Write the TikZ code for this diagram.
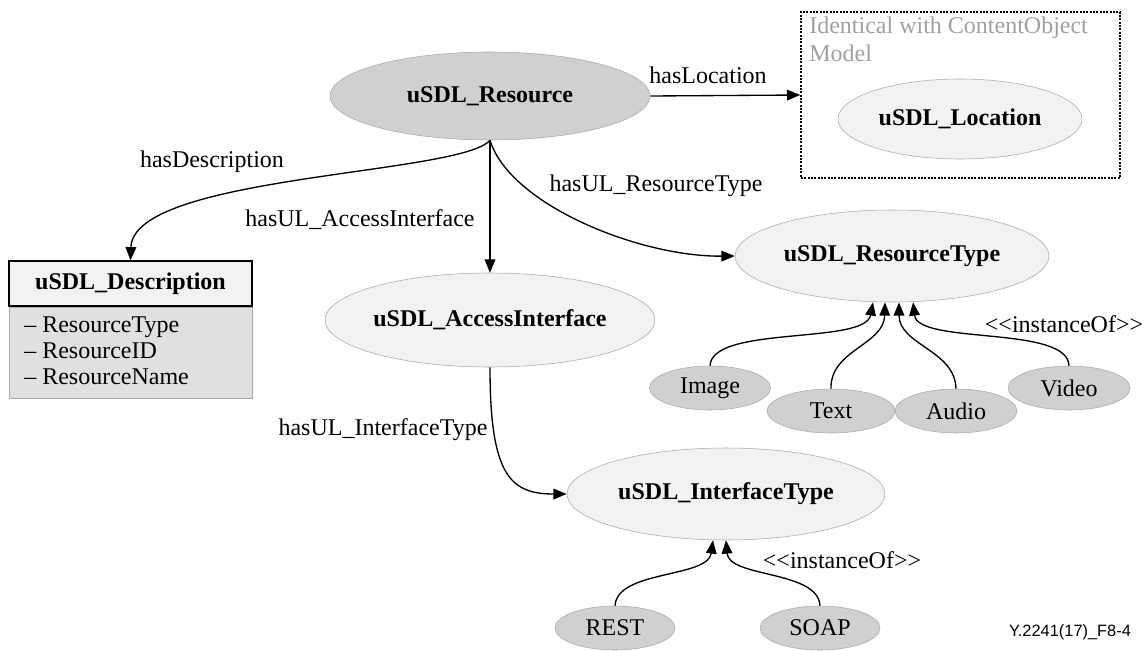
\documentclass[tikz,border=0pt]{standalone}
\usepackage{fontspec}
\setmainfont{Liberation Serif}
\newfontfamily\labelsans{Liberation Sans}
\usetikzlibrary{shapes.geometric,arrows.meta,calc}
\definecolor{darkfill}{HTML}{D0D0D0}
\definecolor{lightfill}{HTML}{F2F2F2}
\definecolor{bodyfill}{HTML}{E0E0E0}
\definecolor{edgegray}{HTML}{A8A8A8}
\definecolor{notegray}{HTML}{A0A0A0}
\begin{document}
\begin{tikzpicture}[x=0.75pt,y=-0.75pt,
  every node/.style={font=\fontsize{18}{21}\selectfont},
  bigell/.style={ellipse,draw=edgegray,fill=lightfill,inner sep=0pt,font=\fontsize{18}{21}\selectfont\bfseries},
  smallell/.style={ellipse,draw=edgegray,fill=darkfill,inner sep=0pt,minimum height=33pt},
  conn/.style={line width=1pt,-{Triangle[length=10pt,width=8pt]}},
  lbl/.style={inner sep=0pt}
]
\useasboundingbox (0,0) rectangle (1146,650);

% nodes
\node[bigell,fill=darkfill,minimum width=240pt,minimum height=66pt] (res) at (490,96) {uSDL\_Resource};
\node[draw,dash pattern=on 1.4pt off 1.1pt,line width=1pt,minimum width=239.25pt,minimum height=124.5pt,inner sep=0pt] (box) at (960.5,95) {};
\node[lbl,anchor=north west,text=notegray,align=left] (note) at (809,17) {Identical with ContentObject\\Model};
\node[bigell,minimum width=183pt,minimum height=60pt] (loc) at (960,119) {uSDL\_Location};

\node[draw=black,fill=lightfill,line width=0.9pt,minimum width=182.25pt,minimum height=33.75pt,inner sep=0pt,font=\fontsize{18}{21}\selectfont\bfseries] (desc) at (130.5,283.5) {uSDL\_Description};
\node[draw=edgegray,fill=bodyfill,minimum width=182.25pt,minimum height=68.25pt,inner sep=0pt,anchor=north] (descbody) at (desc.south) {};
\node[lbl,anchor=north west,align=left,font=\fontsize{18}{19.2}\selectfont] (attrs) at (24,317) {-- ResourceType\\-- ResourceID\\-- ResourceName};
\draw[line width=0.9pt] (desc.south west) -- (desc.south east);

\node[bigell,minimum width=238.5pt,minimum height=70.5pt] (acc) at (490,320) {uSDL\_AccessInterface};
\node[bigell,minimum width=235.5pt,minimum height=69pt] (rtype) at (892,256) {uSDL\_ResourceType};
\node[bigell,minimum width=238.5pt,minimum height=69pt] (itype) at (726,494) {uSDL\_InterfaceType};

\node[smallell,minimum width=90.75pt] (image) at (710,388) {Image};
\node[smallell,minimum width=96pt] (text) at (831,411) {Text};
\node[smallell,minimum width=91.5pt] (audio) at (956,411) {Audio};
\node[smallell,minimum width=91.5pt] (video) at (1069,388) {Video};
\node[smallell,minimum width=90pt] (rest) at (615,628) {REST};
\node[smallell,minimum width=90pt] (soap) at (820,628) {SOAP};

% connectors
\draw[conn] (res.east) -- (box.west);
\draw[conn] (res.south) .. controls (460,175) and (133,175) .. (desc.north);
\draw[conn] (res.south) -- (acc.north);
\draw[conn] (res.south) .. controls (510,205) and (640,257) .. (rtype.west);
\draw[conn] (acc.south) .. controls (490,475) and (510,494) .. (itype.west);

\draw[conn] (image.north) .. controls (712,325) and (865,345) .. ($(rtype.south)+(-19,0)$);
\draw[conn] (text.north) .. controls (830,350) and (884,345) .. ($(rtype.south)+(-7,0)$);
\draw[conn] (audio.north) .. controls (955,350) and (899,345) .. ($(rtype.south)+(7,0)$);
\draw[conn] (video.north) .. controls (1068,325) and (918,345) .. ($(rtype.south)+(21,0)$);

\draw[conn] (rest.north) .. controls (617,570) and (708,578) .. ($(itype.south)+(-13,0)$);
\draw[conn] (soap.north) .. controls (818,570) and (729,578) .. ($(itype.south)+(0,0)$);

% labels
\node[lbl] (lloc) at (708,75) {hasLocation};
\node[lbl] (ldesc) at (212,162) {hasDescription};
\node[lbl] (lacc) at (360,220) {hasUL\_AccessInterface};
\node[lbl] (lrt) at (656,186) {hasUL\_ResourceType};
\node[lbl] (lit) at (383,430) {hasUL\_InterfaceType};
\node[lbl] (inst1) at (1064,324) {<{}<instanceOf>{}>};
\node[lbl] (inst2) at (842,560) {<{}<instanceOf>{}>};
\node[lbl,font=\labelsans\fontsize{12.3}{14}\selectfont] (fig) at (1070,632) {Y.2241(17)\_F8-4};
\end{tikzpicture}
\end{document}
